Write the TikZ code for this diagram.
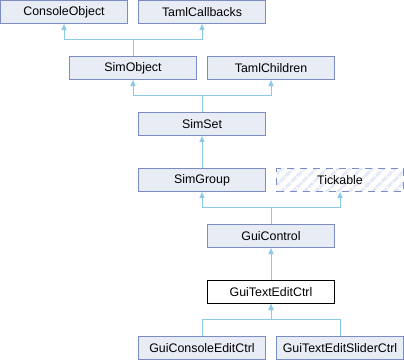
\documentclass[tikz,border=0pt]{standalone}
\usepackage{fontspec}
\setmainfont{Liberation Sans}
\usepackage{tikz}
\usetikzlibrary{arrows.meta,patterns.meta}

\definecolor{boxline}{RGB}{122,141,199}
\definecolor{boxfill}{RGB}{232,236,245}
\definecolor{linkline}{RGB}{140,200,232}
\definecolor{hatch}{RGB}{230,234,244}

\begin{document}
\begin{tikzpicture}[x=1pt, y=1pt,
        cls/.style={rectangle, draw=boxline, fill=boxfill, line width=1pt,
            minimum width=127pt, minimum height=23pt, inner sep=0pt,
            font=\fontsize{12.4}{14}\selectfont},
        here/.style={cls, draw=black, fill=white},
        ext/.style={rectangle, line width=1pt,
            minimum width=127pt, minimum height=23pt, inner sep=0pt,
            font=\fontsize{12.4}{14}\selectfont,
            preaction={fill=white},
            preaction={pattern={Lines[angle=45, distance=8pt, line width=3pt]},
                pattern color=hatch},
            draw=boxline, dash pattern=on 7pt off 6pt},
        inh/.style={draw=linkline, line width=1pt,
            -{Triangle[width=5pt, length=6pt]}}]
    \useasboundingbox (0,0) rectangle (404,360);

    % top two rows
    \node[cls] (ConsoleObject) at (64,348) {ConsoleObject};
    \node[cls] (TamlCallbacks) at (202,348) {TamlCallbacks};
    \node[cls] (SimObject) at (133,292) {SimObject};
    \node[cls] (TamlChildren) at (271,292) {TamlChildren};

    \node[cls] (SimSet) at (202,236) {SimSet};
    \node[cls] (SimGroup) at (202,180) {SimGroup};
    \node[ext] (Tickable) at (340,180) {Tickable};
    \node[cls] (GuiControl) at (271,124) {GuiControl};
    \node[here] (GuiTextEditCtrl) at (271,68) {GuiTextEditCtrl};

    % derived classes
    \node[cls] (GuiConsoleEditCtrl) at (202,12) {GuiConsoleEditCtrl};
    \node[cls] (GuiTextEditSliderCtrl) at (340,12) {GuiTextEditSliderCtrl};

    \draw[inh] (SimObject.north) -- ++(0,16.5) -| (ConsoleObject.south);
    \draw[inh] (SimObject.north) -- ++(0,16.5) -| (TamlCallbacks.south);
    \draw[inh] (SimSet.north) -- ++(0,16.5) -| (SimObject.south);
    \draw[inh] (SimSet.north) -- ++(0,16.5) -| (TamlChildren.south);
    \draw[inh] (SimGroup) -- (SimSet);
    \draw[inh] (GuiControl.north) -- ++(0,16.5) -| (SimGroup.south);
    \draw[inh] (GuiControl.north) -- ++(0,16.5) -| (Tickable.south);
    \draw[inh] (GuiTextEditCtrl) -- (GuiControl);
    \draw[inh] (GuiConsoleEditCtrl.north) -- ++(0,16.5) -| (GuiTextEditCtrl.south);
    \draw[inh] (GuiTextEditSliderCtrl.north) -- ++(0,16.5) -| (GuiTextEditCtrl.south);
\end{tikzpicture}
\end{document}
